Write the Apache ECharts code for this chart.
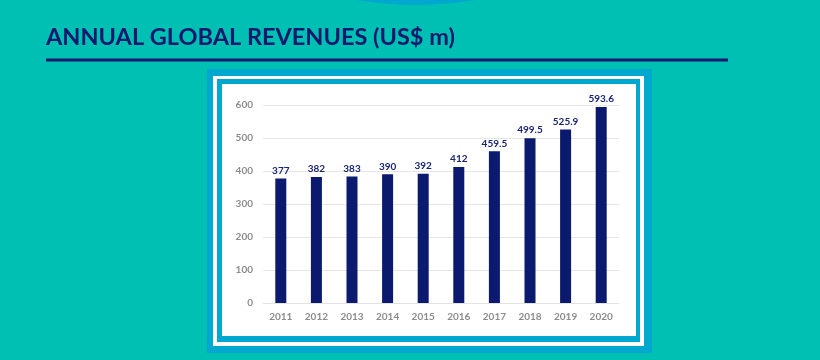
<!DOCTYPE html>
<html>
<head>
<meta charset="utf-8">
<script src="https://cdn.jsdelivr.net/npm/echarts@6/dist/echarts.min.js"></script>
<style>
html,body{margin:0;padding:0;background:#00bfb3;}
#chart{width:820px;height:360px;}
</style>
</head>
<body>
<div id="chart"></div>
<script>
var years = ['2011','2012','2013','2014','2015','2016','2017','2018','2019','2020'];
var revenues = [377, 382, 383, 390, 392, 412, 459.5, 499.5, 525.9, 593.6];
var titleText = 'ANNUAL GLOBAL REVENUES (US$ m)';

var navy = '#0b1a6e';
var frameBlue = '#00a8cf';
var chart = echarts.init(document.getElementById('chart'), null, {renderer:'canvas'});
chart.setOption({
  backgroundColor: '#00bfb3',
  animation: false,
  title: {
    text: titleText,
    left: 41, top: 20,
    textStyle: {fontFamily: 'Lato', fontWeight: 'bold', fontSize: 23.5, color: navy}
  },
  graphic: [
    {type:'circle', shape:{cx:416, cy:-352, r:357}, style:{fill:frameBlue}, z:-10, silent:true},
    {type:'rect', shape:{x:46, y:58.5, width:682, height:3}, style:{fill:navy}, z:-10, silent:true},
    {type:'rect', shape:{x:207, y:69, width:445, height:284}, style:{fill:frameBlue}, z:-10, silent:true},
    {type:'rect', shape:{x:213, y:76, width:431, height:270}, style:{fill:'#ffffff'}, z:-9, silent:true},
    {type:'rect', shape:{x:217, y:79, width:423, height:263}, style:{fill:frameBlue}, z:-8, silent:true},
    {type:'rect', shape:{x:222, y:84, width:414, height:252}, style:{fill:'#ffffff'}, z:-7, silent:true}
  ],
  grid: {left: 263, right: 201, top: 105, bottom: 57},
  xAxis: {
    type: 'category',
    data: years,
    axisLine: {show: true, lineStyle: {color: '#e2e2e2'}},
    axisTick: {show: false},
    axisLabel: {color: '#8c8c8c', fontFamily: 'Lato', fontWeight: 'bold', fontSize: 10, margin: 9}
  },
  yAxis: {
    type: 'value',
    min: 0, max: 600, interval: 100,
    axisLine: {show: false},
    axisTick: {show: false},
    splitLine: {lineStyle: {color: '#e6e6e6'}},
    axisLabel: {color: '#8c8c8c', fontFamily: 'Lato', fontWeight: 'bold', fontSize: 10, margin: 10}
  },
  series: [{
    type: 'bar',
    data: revenues,
    barWidth: 11,
    itemStyle: {color: navy},
    label: {
      show: true, position: 'top', distance: 3,
      color: '#1a2575', fontFamily: 'Lato', fontWeight: 'bold', fontSize: 10
    }
  }]
});
</script>
</body>
</html>
